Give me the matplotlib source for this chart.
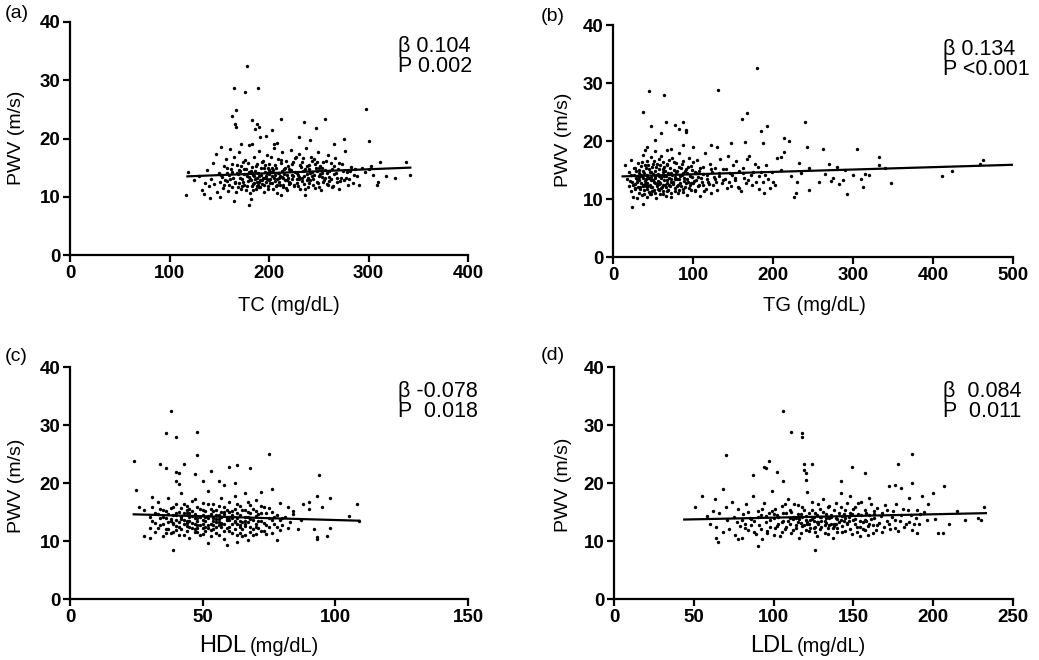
import numpy as np
import matplotlib
matplotlib.use("Agg")
import matplotlib.pyplot as plt

plt.rcParams["font.family"] = ["Liberation Sans", "DejaVu Sans"]

# ---- data (PWV in m/s vs lipid in mg/dL) ----
tc_pwv = [
    (125, 12.8), (130, 13.6), (133, 11.2), (136, 12.4), (138, 14.6), (140, 11.8), (142, 13.1), (144, 15.8),
    (145, 12.2), (147, 17.3), (148, 10.9), (150, 14.0), (151, 12.5), (152, 18.5), (153, 13.4), (154, 11.5),
    (155, 15.2), (156, 12.9), (157, 16.4), (158, 14.1), (159, 11.0), (160, 13.7), (160, 12.1), (161, 18.2),
    (162, 14.8), (163, 11.7), (164, 13.2), (165, 16.9), (166, 12.6), (167, 10.8), (168, 15.5), (169, 13.9),
    (170, 12.3), (170, 17.6), (171, 14.4), (172, 11.4), (173, 13.0), (174, 15.9), (175, 12.0), (175, 14.7),
    (176, 16.3), (177, 11.1), (178, 13.5), (179, 12.7), (180, 18.8), (180, 14.2), (181, 10.6), (182, 12.9),
    (183, 15.1), (183, 11.9), (184, 13.8), (185, 12.4), (185, 16.8), (186, 14.5), (187, 11.3), (188, 13.3),
    (188, 15.7), (189, 12.1), (190, 17.9), (190, 13.6), (191, 11.6), (192, 14.9), (193, 12.8), (194, 16.1),
    (194, 13.2), (195, 10.9), (196, 15.4), (197, 12.5), (198, 14.0), (198, 17.2), (199, 11.8), (200, 13.9),
    (200, 15.6), (201, 12.3), (202, 16.9), (203, 13.5), (204, 11.4), (204, 14.6), (205, 18.4), (206, 12.7),
    (207, 15.0), (208, 13.1), (208, 10.7), (209, 16.5), (210, 14.1), (211, 12.0), (212, 15.8), (213, 13.4),
    (213, 17.6), (214, 11.6), (215, 14.8), (216, 12.9), (217, 16.2), (218, 13.7), (218, 11.1), (219, 15.3),
    (220, 12.6), (221, 14.4), (222, 18.1), (223, 13.0), (224, 15.9), (225, 11.9), (226, 14.2), (227, 16.8),
    (228, 12.4), (229, 13.8), (230, 17.4), (231, 11.4), (232, 15.1), (233, 13.3), (234, 16.6), (235, 12.2),
    (236, 14.7), (237, 18.3), (238, 13.9), (239, 11.7), (240, 15.5), (241, 12.8), (242, 16.9), (243, 14.3),
    (244, 13.1), (245, 16.4), (246, 11.5), (247, 14.9), (248, 12.6), (249, 17.7), (250, 13.6), (251, 15.3),
    (252, 11.2), (253, 14.1), (254, 16.0), (255, 12.9), (256, 14.6), (258, 12.2), (259, 17.1), (260, 13.4),
    (262, 15.8), (263, 11.6), (265, 13.9), (266, 16.7), (268, 12.5), (269, 14.8), (270, 11.4), (272, 13.2),
    (273, 15.6), (275, 12.8), (276, 17.9), (278, 14.2), (280, 13.0), (282, 15.1), (284, 12.4), (286, 14.7),
    (288, 13.5), (290, 12.1), (293, 15.0), (296, 14.3), (300, 14.8), (303, 15.3), (305, 13.7), (318, 13.5),
    (188, 12.6), (196, 13.2), (206, 13.8), (214, 13.3), (222, 14.6), (200, 12.9), (185, 13.6), (230, 13.0),
    # dense core
    (152, 13.8), (155, 12.1), (158, 14.9), (161, 13.0), (163, 15.6), (166, 12.3), (168, 14.1), (169, 11.6),
    (171, 13.3), (172, 15.2), (174, 12.6), (175, 13.9), (177, 14.8), (178, 11.9), (179, 15.8), (181, 13.1),
    (182, 14.4), (184, 12.2), (184, 11.2), (186, 13.0), (187, 15.3), (189, 14.1), (190, 11.7), (191, 12.9),
    (192, 13.8), (193, 15.9), (195, 12.1), (196, 14.3), (197, 13.5), (199, 11.4), (199, 15.0), (201, 13.0),
    (202, 14.2), (203, 12.3), (205, 13.3), (206, 15.5), (207, 11.9), (209, 14.0), (210, 12.6), (211, 13.6),
    (212, 16.3), (214, 12.1), (215, 13.9), (216, 15.0), (217, 11.5), (219, 13.2), (220, 14.7), (221, 12.4),
    (223, 15.6), (224, 13.5), (225, 12.0), (226, 16.6), (228, 14.1), (229, 11.8), (230, 13.4), (231, 15.4),
    (233, 12.7), (234, 14.5), (235, 13.6), (236, 11.3), (238, 15.2), (239, 13.2), (240, 12.4), (241, 14.0),
    (243, 16.1), (244, 12.0), (245, 13.8), (246, 15.6), (248, 14.4), (249, 12.3), (250, 11.6), (251, 13.9),
    (253, 15.0), (254, 12.6), (256, 13.3), (257, 16.1), (259, 12.0), (260, 14.5), (262, 13.0), (264, 11.8),
    (265, 15.3), (267, 14.0), (268, 13.2), (270, 15.8), (271, 12.7), (274, 14.4), (277, 13.3), (279, 12.0),
    (281, 14.5), (285, 13.8), (170, 14.6), (180, 13.4), (190, 12.5), (200, 14.6), (210, 13.2), (220, 12.2),
    (240, 14.7), (250, 14.9), (260, 12.7), (195, 14.9), (183, 14.0), (188, 11.9), (193, 12.2), (198, 13.1),
    (203, 14.9), (208, 12.0), (213, 14.5), (218, 12.8), (223, 13.7), (228, 13.0), (233, 15.9), (238, 12.9),
    (243, 13.5), (248, 15.9), (253, 13.4), (258, 14.0), (263, 14.7), (158, 12.7), (163, 14.3), (173, 11.8),
    # outliers
    (178, 32.5), (165, 28.7), (189, 28.7), (176, 27.9), (167, 24.9), (163, 23.8), (166, 22.5), (167, 22.0),
    (183, 23.2), (188, 22.5), (190, 22.0), (186, 21.6), (212, 23.3), (235, 22.8), (256, 23.3), (247, 21.8),
    (297, 25.0), (300, 19.5), (203, 21.4), (197, 20.5), (191, 20.3), (230, 20.3), (241, 19.8), (275, 20.0),
    (172, 19.0), (183, 19.0), (205, 19.0), (208, 19.2), (265, 19.0), (312, 15.9), (338, 15.9), (342, 13.8),
    (327, 13.3), (309, 12.0), (310, 12.6), (117, 10.3), (119, 14.3), (135, 10.5), (141, 9.8), (151, 10.0),
    (165, 9.3), (180, 8.5), (182, 9.6), (212, 10.3), (236, 10.3),
]

tg_pwv = [
    (15, 15.8), (18, 13.5), (20, 12.2), (20, 14.6), (22, 11.4), (23, 16.8), (24, 13.0), (25, 10.3),
    (26, 14.1), (27, 12.6), (28, 15.3), (28, 11.8), (29, 13.7), (30, 10.1), (30, 12.9), (31, 16.2),
    (32, 14.4), (33, 11.1), (33, 13.3), (34, 12.0), (35, 15.7), (36, 13.9), (36, 10.7), (37, 12.5),
    (38, 17.6), (38, 14.8), (39, 11.6), (40, 13.1), (40, 15.9), (41, 12.3), (42, 10.4), (42, 14.2),
    (43, 16.6), (43, 12.8), (44, 13.6), (45, 11.2), (45, 15.1), (46, 12.4), (47, 17.3), (47, 13.8),
    (48, 10.9), (48, 14.6), (49, 12.1), (50, 16.1), (50, 13.3), (51, 11.5), (52, 14.9), (52, 12.7),
    (53, 18.2), (53, 13.9), (54, 10.2), (54, 15.6), (55, 12.3), (56, 14.3), (56, 11.7), (57, 16.9),
    (57, 13.0), (58, 12.6), (58, 15.2), (59, 10.8), (60, 13.6), (60, 17.4), (61, 12.0), (62, 14.7),
    (62, 11.3), (63, 16.3), (64, 13.2), (64, 15.5), (65, 12.5), (66, 10.6), (66, 14.0), (67, 18.4),
    (68, 12.8), (68, 15.8), (69, 11.6), (70, 13.7), (70, 16.7), (71, 12.2), (72, 14.5), (73, 10.3),
    (73, 13.4), (74, 17.1), (75, 12.6), (76, 15.0), (77, 11.4), (78, 13.8), (79, 16.2), (80, 12.3),
    (80, 14.8), (81, 11.0), (82, 13.5), (83, 17.9), (84, 12.7), (85, 15.4), (86, 14.1), (87, 11.8),
    (88, 16.5), (89, 13.1), (90, 12.0), (91, 15.1), (92, 10.7), (93, 14.4), (94, 13.0), (95, 17.1),
    (96, 12.4), (97, 15.7), (98, 11.5), (99, 13.8), (100, 16.3), (100, 12.8), (102, 14.6), (103, 11.3),
    (104, 13.3), (105, 16.8), (106, 12.2), (108, 14.9), (109, 10.5), (110, 13.6), (112, 15.6), (113, 12.5),
    (115, 17.9), (116, 11.8), (118, 14.2), (119, 13.0), (121, 16.0), (122, 11.1), (124, 14.7), (125, 12.4),
    (127, 15.3), (128, 13.5), (130, 11.5), (132, 14.0), (134, 16.9), (136, 12.7), (138, 15.1), (140, 13.4),
    (142, 11.9), (144, 17.4), (146, 14.5), (148, 12.3), (150, 15.9), (152, 13.2), (154, 16.6), (156, 12.0),
    (158, 14.8), (160, 11.3), (162, 15.4), (164, 13.6), (166, 12.8), (170, 17.4), (172, 14.1), (174, 12.5),
    (177, 16.1), (179, 13.0), (181, 15.6), (183, 11.7), (185, 14.7), (188, 12.9), (191, 15.8), (194, 13.5),
    (196, 11.9), (199, 14.6), (203, 12.4),
    # dense core
    (21, 13.1), (23, 14.2), (25, 12.5), (26, 15.4), (27, 11.9), (29, 14.8), (30, 13.4), (31, 12.1),
    (32, 15.0), (33, 13.8), (34, 11.7), (35, 14.1), (35, 12.8), (36, 16.3), (37, 13.6), (38, 12.2),
    (39, 14.5), (39, 10.9), (40, 12.6), (41, 15.4), (41, 13.5), (42, 11.8), (43, 14.0), (44, 12.3),
    (44, 15.8), (45, 13.7), (46, 10.8), (46, 14.7), (47, 12.0), (48, 13.2), (49, 15.5), (49, 11.3),
    (50, 14.3), (51, 12.9), (51, 16.5), (52, 11.0), (53, 13.6), (54, 14.1), (55, 12.6), (55, 16.0),
    (56, 13.1), (57, 11.5), (58, 14.0), (59, 12.8), (59, 15.9), (60, 11.9), (61, 13.9), (62, 12.4),
    (63, 15.1), (63, 10.9), (64, 13.9), (65, 14.9), (66, 12.1), (67, 13.3), (67, 16.1), (68, 11.3),
    (69, 14.4), (70, 12.4), (71, 15.4), (72, 13.0), (72, 11.0), (74, 14.1), (75, 12.9), (76, 16.4),
    (77, 13.5), (78, 11.9), (79, 14.6), (80, 13.4), (81, 12.4), (82, 15.6), (83, 11.6), (84, 13.9),
    (85, 12.3), (86, 16.0), (87, 14.4), (88, 11.2), (89, 13.7), (90, 14.8), (91, 12.7), (92, 13.4),
    (94, 15.6), (95, 11.9), (96, 14.0), (97, 12.7), (99, 15.0), (101, 13.1), (102, 11.6), (104, 14.5),
    (106, 13.8), (107, 12.4), (109, 15.3), (111, 12.9), (113, 14.3), (114, 11.4), (117, 13.5), (120, 12.6),
    (123, 15.1), (126, 13.8), (129, 12.9), (133, 14.4), (137, 13.3), (141, 15.1), (145, 12.9), (149, 14.1),
    (153, 13.7), (157, 11.9), (163, 14.4), (169, 13.3), (175, 14.7), (182, 13.9),
    # outliers and sparse tail
    (180, 32.5), (45, 28.7), (131, 28.8), (64, 27.9), (37, 25.0), (167, 24.9), (161, 23.8), (240, 23.3),
    (66, 23.2), (88, 23.2), (47, 22.5), (77, 22.7), (82, 22.1), (91, 21.9), (91, 21.6), (192, 22.6),
    (185, 21.7), (214, 20.5), (220, 20.0), (52, 20.2), (60, 21.3), (263, 18.6), (305, 18.6), (242, 18.9),
    (333, 17.2), (459, 16.1), (463, 16.7), (411, 14.0), (424, 14.9), (348, 12.7), (293, 10.9), (226, 10.4),
    (229, 11.0), (24, 8.6), (38, 9.2), (189, 11.0), (313, 12.0), (340, 15.3), (333, 15.8), (315, 14.3),
    (300, 14.1), (280, 15.5), (270, 16.1), (275, 13.6), (283, 12.6), (258, 12.9), (245, 15.3), (232, 16.2),
    (230, 12.9), (245, 11.6), (205, 17.0), (210, 17.2), (187, 19.6), (165, 19.8), (147, 19.6), (130, 18.9),
    (122, 19.3), (100, 18.9), (88, 19.3), (42, 19.0), (40, 18.5), (72, 18.7), (168, 16.9), (214, 18.1),
    (190, 14.2), (200, 13.0), (210, 15.0), (222, 14.0), (235, 14.4), (265, 14.3), (290, 15.0), (310, 13.4),
    (320, 14.2), (272, 13.1), (288, 13.3),
]

hdl_pwv = [
    (30, 14.2), (30, 12.3), (31, 15.8), (32, 13.1), (32, 11.5), (33, 16.8), (33, 14.6), (34, 12.7),
    (34, 13.9), (35, 10.9), (35, 15.3), (36, 12.1), (36, 14.0), (37, 17.5), (37, 13.2), (38, 11.3),
    (38, 15.7), (39, 12.9), (39, 14.4), (40, 16.4), (40, 11.9), (40, 13.6), (41, 12.4), (41, 15.0),
    (42, 18.3), (42, 13.8), (43, 11.1), (43, 14.9), (44, 12.6), (44, 16.1), (45, 13.4), (45, 10.5),
    (45, 15.5), (46, 12.2), (46, 14.3), (47, 17.2), (47, 13.0), (48, 11.6), (48, 15.8), (49, 12.8),
    (49, 14.1), (50, 16.6), (50, 11.2), (50, 13.7), (51, 12.5), (51, 15.2), (52, 18.6), (52, 13.9),
    (53, 10.8), (53, 14.7), (54, 12.0), (54, 16.3), (55, 13.3), (55, 11.4), (55, 15.4), (56, 12.7),
    (56, 14.5), (57, 17.4), (57, 13.1), (58, 10.4), (58, 15.9), (59, 12.3), (59, 14.0), (60, 16.8),
    (60, 11.8), (60, 13.6), (61, 12.9), (61, 15.1), (62, 17.8), (62, 13.5), (63, 11.0), (63, 14.8),
    (64, 12.4), (64, 16.0), (65, 13.2), (65, 10.9), (66, 15.3), (66, 12.6), (67, 14.2), (67, 16.7),
    (68, 11.5), (68, 13.8), (69, 12.1), (69, 15.6), (70, 13.0), (70, 11.2), (71, 14.6), (71, 12.3),
    (72, 16.1), (72, 13.4), (73, 11.7), (74, 14.9), (74, 12.8), (75, 15.7), (76, 13.6), (76, 11.4),
    (77, 14.1), (78, 12.5), (79, 16.5), (80, 13.9),
    (42, 14.2), (44, 13.1), (46, 15.1), (48, 13.5), (50, 14.5), (52, 12.2), (54, 14.0), (56, 13.3),
    (58, 14.6), (44, 14.8), (47, 12.1), (53, 13.0), (57, 15.0), (61, 13.9), (38, 13.8), (35, 14.1),
    (64, 14.4), (66, 13.5), (68, 14.9), (70, 14.3),
    # dense core
    (31, 13.4), (32, 14.8), (33, 12.3), (34, 15.5), (35, 13.0), (36, 11.3), (36, 15.1), (37, 14.7),
    (37, 12.0), (38, 13.4), (39, 15.9), (39, 11.6), (40, 14.9), (40, 12.6), (41, 13.3), (41, 11.0),
    (42, 15.7), (42, 12.1), (43, 13.6), (43, 16.4), (44, 11.8), (44, 15.3), (45, 14.2), (45, 12.4),
    (46, 13.1), (46, 16.9), (47, 11.5), (47, 14.6), (48, 12.8), (48, 14.0), (49, 15.6), (49, 11.0),
    (50, 13.0), (50, 15.3), (51, 11.8), (51, 14.1), (52, 16.4), (52, 12.8), (53, 15.5), (53, 11.9),
    (54, 13.5), (54, 15.1), (55, 12.5), (55, 14.4), (56, 11.0), (56, 16.1), (57, 12.4), (57, 14.2),
    (58, 13.0), (58, 11.7), (59, 15.3), (59, 13.7), (60, 12.4), (60, 15.0), (61, 11.3), (61, 14.4),
    (62, 12.0), (62, 15.6), (63, 13.0), (63, 16.4), (64, 11.4), (64, 13.4), (65, 15.4), (65, 12.1),
    (66, 14.1), (66, 11.1), (67, 13.2), (67, 15.0), (68, 12.5), (68, 16.2), (69, 13.6), (69, 11.1),
    (70, 15.2), (70, 12.4), (71, 13.5), (72, 11.7), (72, 14.8), (73, 13.1), (73, 15.8), (74, 11.2),
    (75, 13.9), (75, 12.4), (76, 15.0), (77, 12.9), (78, 14.5), (79, 11.9), (79, 13.6), (81, 14.1),
    (82, 12.3), (84, 15.2), (40, 14.4), (43, 13.0), (45, 14.8), (48, 12.2), (50, 12.2), (52, 14.3),
    (54, 12.7), (56, 13.8), (58, 15.0), (60, 14.2), (62, 13.2), (64, 12.7), (66, 12.9), (55, 13.8),
    (47, 13.9), (51, 13.4), (57, 12.9), (63, 14.0), (39, 13.1), (44, 13.5),
    # outliers and sparse tail
    (38, 32.5), (36, 28.7), (48, 28.8), (40, 27.9), (48, 24.9), (75, 25.0), (24, 23.8), (34, 23.2),
    (43, 23.3), (36, 22.6), (40, 21.9), (41, 21.7), (47, 21.6), (53, 22.1), (60, 22.7), (63, 23.1),
    (68, 22.6), (94, 21.3), (25, 18.8), (56, 20.3), (40, 20.4), (41, 19.8), (76, 19.0), (98, 17.5),
    (93, 17.7), (108, 16.4), (105, 14.3), (109, 13.5), (92, 12.0), (93, 10.4), (93, 10.7), (97, 10.9),
    (98, 12.2), (39, 8.5), (30, 10.6), (28, 10.9), (52, 9.7), (59, 9.3), (63, 9.9), (67, 10.2),
    (78, 10.1), (86, 12.1), (82, 15.9), (88, 16.3), (90, 16.8), (90, 15.5), (84, 14.6), (87, 13.7),
    (95, 15.9), (80, 12.8), (83, 13.3), (72, 18.5), (70, 17.0), (66, 18.2), (62, 20.0), (58, 19.6),
    (50, 20.4), (31, 17.6), (28, 15.4), (26, 15.9),
]

ldl_pwv = [
    (58, 14.3), (60, 13.0), (62, 15.2), (64, 12.4), (66, 14.8), (68, 11.6), (70, 15.8), (71, 13.6),
    (72, 12.1), (74, 16.7), (75, 14.2), (76, 11.0), (77, 13.2), (78, 15.6), (79, 12.6), (80, 10.6),
    (81, 14.7), (82, 13.0), (83, 16.3), (84, 11.9), (85, 14.0), (86, 12.7), (87, 17.8), (88, 13.5),
    (89, 11.2), (90, 15.1), (91, 12.8), (92, 14.4), (93, 10.4), (94, 16.6), (95, 13.2), (96, 11.8),
    (97, 14.9), (98, 12.4), (99, 18.6), (100, 13.9), (100, 11.1), (101, 15.6), (102, 12.6), (103, 14.2),
    (104, 10.9), (105, 16.1), (106, 13.4), (107, 12.0), (108, 14.8), (109, 17.3), (110, 12.9), (110, 15.3),
    (111, 11.3), (112, 13.8), (113, 16.4), (114, 12.3), (115, 14.6), (116, 10.6), (117, 13.1), (118, 15.9),
    (119, 12.7), (120, 14.3), (121, 18.5), (122, 11.7), (123, 13.6), (124, 16.8), (125, 12.2), (126, 14.9),
    (127, 10.9), (128, 13.3), (129, 15.5), (130, 12.5), (130, 14.1), (131, 17.2), (132, 11.4), (133, 13.9),
    (134, 15.8), (135, 12.8), (136, 14.5), (137, 10.6), (138, 13.0), (139, 16.5), (140, 12.3), (141, 14.8),
    (142, 18.3), (143, 11.6), (144, 13.5), (145, 15.4), (146, 12.9), (147, 14.2), (148, 17.7), (149, 11.2),
    (150, 13.7), (151, 15.9), (152, 12.4), (153, 14.6), (154, 10.8), (155, 16.8), (156, 13.2), (157, 11.9),
    (158, 14.9), (159, 12.6), (160, 17.5), (161, 13.8), (162, 11.3), (163, 15.2), (165, 12.8), (167, 14.3),
    (168, 11.5), (170, 16.2), (171, 13.4), (173, 12.0), (175, 15.1), (176, 13.7), (178, 11.8), (180, 14.5),
    (182, 12.5), (184, 15.4), (185, 13.3), (187, 11.9), (189, 14.0), (191, 12.9), (194, 15.0), (196, 13.6),
    (115, 13.2), (120, 13.6), (125, 14.1), (128, 12.9), (132, 13.4), (135, 14.0), (138, 12.6), (140, 13.8),
    (143, 14.3), (146, 13.1), (122, 13.0), (126, 12.4), (118, 14.2), (134, 12.2),
    # dense core
    (80, 13.6), (82, 12.2), (84, 15.0), (86, 13.8), (88, 11.6), (90, 14.1), (92, 12.1), (93, 15.6),
    (95, 14.3), (96, 11.4), (98, 13.6), (99, 15.2), (101, 12.2), (102, 14.5), (103, 13.0), (105, 11.5),
    (106, 14.8), (107, 16.3), (108, 12.4), (109, 13.5), (111, 15.0), (112, 11.9), (113, 14.1), (114, 12.8),
    (115, 16.2), (116, 13.8), (117, 11.4), (118, 12.6), (119, 15.3), (120, 11.9), (121, 13.3), (122, 14.8),
    (123, 12.2), (124, 15.4), (125, 13.5), (126, 11.6), (127, 14.5), (128, 16.4), (129, 12.1), (130, 13.4),
    (131, 15.0), (132, 12.7), (133, 14.7), (134, 11.2), (135, 16.1), (136, 13.0), (137, 12.2), (138, 15.3),
    (139, 13.9), (140, 11.5), (141, 13.2), (142, 15.9), (143, 12.6), (144, 14.7), (145, 11.7), (146, 16.6),
    (147, 13.5), (148, 12.1), (149, 14.6), (150, 15.6), (151, 12.9), (152, 11.6), (153, 16.5), (154, 13.4),
    (155, 14.4), (156, 12.0), (157, 15.4), (158, 13.5), (159, 11.1), (160, 14.5), (161, 16.3), (162, 12.8),
    (163, 13.9), (164, 11.9), (165, 15.7), (166, 13.1), (168, 14.8), (169, 12.4), (171, 15.4), (172, 13.0),
    (174, 14.2), (176, 12.2), (177, 16.4), (179, 13.4), (181, 15.6), (183, 12.9), (186, 14.5), (188, 13.0),
    (190, 15.3), (192, 14.6), (110, 14.0), (114, 13.9), (117, 14.7), (121, 12.9), (124, 13.8), (127, 13.3),
    (129, 14.2), (133, 13.1), (136, 14.2), (139, 12.9), (142, 13.6), (145, 13.9), (148, 14.9), (151, 13.8),
    (154, 12.4), (157, 13.7), (160, 13.0), (163, 14.6), (100, 14.6), (105, 13.2),
    # outliers and sparse tail
    (106, 32.5), (111, 28.8), (118, 28.6), (118, 27.9), (70, 24.9), (187, 25.0), (97, 23.8), (94, 22.7),
    (95, 22.6), (119, 23.2), (124, 23.2), (119, 22.2), (120, 21.8), (120, 20.5), (149, 22.7), (157, 21.7),
    (178, 23.3), (87, 21.3), (102, 21.9), (106, 20.3), (142, 20.3), (187, 20.0), (207, 19.4), (68, 18.9),
    (55, 17.8), (51, 15.9), (63, 17.3), (200, 18.2), (232, 15.9), (230, 13.7), (228, 14.0), (220, 13.6),
    (215, 15.2), (210, 12.9), (206, 11.3), (203, 11.4), (201, 13.8), (64, 10.5), (65, 9.8), (90, 9.2),
    (126, 8.5), (78, 10.3), (190, 11.4), (176, 19.6), (172, 19.4), (180, 19.2), (185, 17.5), (193, 17.8),
    (197, 16.4),
]

# fitted regression line end points
tc_fit = ([118, 342], [13.5, 15.0])
tg_fit = ([12, 500], [13.9, 15.9])
hdl_fit = ([24, 109], [14.6, 13.5])
ldl_fit = ([44, 233], [13.7, 14.8])

tc_xticks = [0, 100, 200, 300, 400]
tg_xticks = [0, 100, 200, 300, 400, 500]
hdl_xticks = [0, 50, 100, 150]
ldl_xticks = [0, 50, 100, 150, 200, 250]
pwv_yticks = [0, 10, 20, 30, 40]

stats_text = ["\u03b2 0.104\nP 0.002", "\u03b2 0.134\nP <0.001",
              "\u03b2 -0.078\nP  0.018", "\u03b2  0.084\nP  0.011"]
panel_tags = ["(a)", "(b)", "(c)", "(d)"]

W, H = 1039, 660
fig = plt.figure(figsize=(W / 100, H / 100), dpi=100)


def px(x, y):
    return x / W, 1 - y / H


rects = [
    (70, 22, 398, 233),
    (613, 25, 400, 232),
    (70, 367, 398, 232),
    (614, 367, 399, 232),
]
panels = [
    (tc_pwv, tc_fit, tc_xticks),
    (tg_pwv, tg_fit, tg_xticks),
    (hdl_pwv, hdl_fit, hdl_xticks),
    (ldl_pwv, ldl_fit, ldl_xticks),
]

for i, ((l, t, w, h), (pts, fit, xt)) in enumerate(zip(rects, panels)):
    ax = fig.add_axes([l / W, 1 - (t + h) / H, w / W, h / H])
    pts = np.array(pts, dtype=float)
    ax.scatter(pts[:, 0], pts[:, 1], s=6, c="black", linewidths=0, zorder=2)
    ax.plot(fit[0], fit[1], color="black", lw=1.6, zorder=3)
    ax.set_xlim(xt[0], xt[-1])
    ax.set_ylim(0, 40)
    ax.set_xticks(xt)
    ax.set_yticks(pwv_yticks)
    for s in ["top", "right"]:
        ax.spines[s].set_visible(False)
    for s in ["left", "bottom"]:
        ax.spines[s].set_linewidth(1.6)
    ax.tick_params(width=1.6, length=5, labelsize=13.5, pad=2)
    for lab in ax.get_xticklabels() + ax.get_yticklabels():
        lab.set_fontweight("bold")
    ax.text(0.825, 0.94, stats_text[i], transform=ax.transAxes, ha="left",
            va="top", fontsize=15.5, linespacing=0.95)

# panel tags
for tag, (x, y) in zip(panel_tags, [(5, 5), (541, 8), (5, 348), (541, 347)]):
    fig.text(*px(x, y), tag, fontsize=14, ha="left", va="top")

# y labels
for (x, y) in [(17, 138), (564, 140), (17, 486), (564, 485)]:
    fig.text(*px(x, y), "PWV (m/s)", rotation=90, ha="center", va="center", fontsize=14)

# x labels
fig.text(*px(289, 311), "TC (mg/dL)", ha="center", va="baseline", fontsize=14.5)
fig.text(*px(814, 311), "TG (mg/dL)", ha="center", va="baseline", fontsize=14.5)
fig.text(*px(246, 652), "HDL", ha="right", va="baseline", fontsize=17)
fig.text(*px(250, 652), "(mg/dL)", ha="left", va="baseline", fontsize=14.5)
fig.text(*px(793, 652), "LDL", ha="right", va="baseline", fontsize=17)
fig.text(*px(797, 652), "(mg/dL)", ha="left", va="baseline", fontsize=14.5)

fig.savefig("out.png", dpi=100)
